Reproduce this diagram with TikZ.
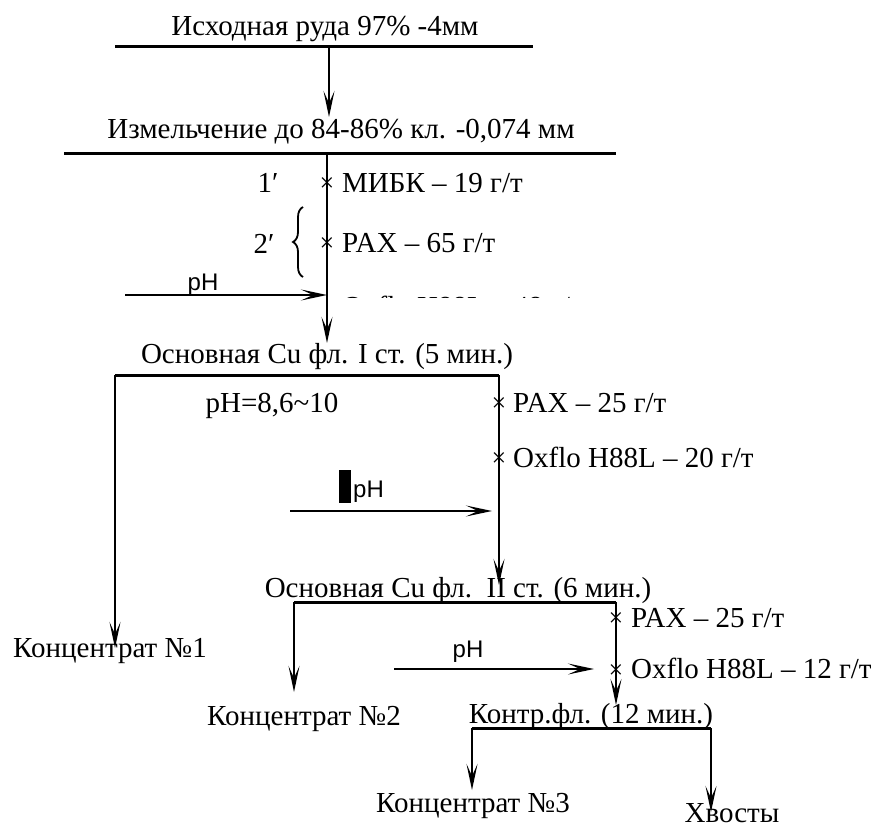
\documentclass[tikz,border=0pt]{standalone}
\usepackage{fontspec}
\setmainfont{Liberation Serif}
\newfontfamily\phfont{Liberation Sans}
\usetikzlibrary{arrows.meta, decorations.pathreplacing}
\tikzset{
  lbl/.style={inner sep=0pt, anchor=base, font=\fontsize{29}{34}\selectfont},
  dose/.style={lbl, anchor=base west},
  phlbl/.style={inner sep=0pt, anchor=base, font=\phfont\fontsize{24}{28}\selectfont},
  cross/.style={inner sep=0pt, font=\fontsize{26}{28}\selectfont},
  bar/.style={line width=3pt},
  pipe/.style={line width=1.6pt},
  flow/.style={-{Stealth[length=26pt, width=11pt, inset=12pt]}, line width=1.7pt},
}
\begin{document}
\begin{tikzpicture}[x=1pt, y=-1pt]
\useasboundingbox (0,0) rectangle (875,832);

% feed and grinding
\node[lbl] (feed) at (325,36) {Исходная руда 97\% -4мм};
\coordinate (feedL) at (115,47);
\coordinate (feedR) at (533,47);
\coordinate (feedM) at (329,47);
\draw[bar] (feedL) -- (feedR);

\node[lbl] (grind) at (341,139) {Измельчение до 84-86\% кл. -0,074 мм};
\coordinate (grindIn) at (329,117);
\coordinate (grindL) at (64,153);
\coordinate (grindR) at (616,153);
\coordinate (grindM) at (327,153);
\draw[flow] (feedM) -- (grindIn);
\draw[bar] (grindL) -- (grindR);

% reagents before rougher I
\coordinate (r1In) at (327,343);
\draw[flow] (grindM) -- (r1In);
\node[cross] (x1) at (327,185) {×};
\node[cross] (x2) at (327,245) {×};
\node[lbl] (n1) at (268,192) {1′};
\node[lbl] (n2) at (264,253) {2′};
\node[dose] (mibk) at (342,192) {МИБК – 19 г/т};
\node[dose] (pax1) at (342,252) {PAX – 65 г/т};
\draw[decorate, decoration={brace, amplitude=10pt}, line width=1.8pt]
  (303,277) -- (303,207);
\begin{scope}
  \clip (330,280) rectangle (640,297);
  \node[dose] (oxflo1) at (342,316) {Oxflo H88L – 48 г/т};
\end{scope}
\coordinate (ph1S) at (125,295);
\coordinate (ph1E) at (327,295);
\draw[flow] (ph1S) -- (ph1E);
\node[phlbl] (ph1) at (203,290) {pH};

% rougher I
\node[lbl] (rough1) at (327,363) {Основная Cu фл. I ст. (5 мин.)};
\coordinate (r1L) at (115,375);
\coordinate (r1R) at (499,375);
\draw[bar] (r1L) -- (r1R);
\node[lbl] (phr1) at (272,412) {pH=8,6\textasciitilde10};
\node[lbl] (conc1) at (110,657) {Концентрат №1};
\coordinate (conc1In) at (115,648);
\draw[flow] (r1L) -- (conc1In);

\node[cross] (x3) at (499,405) {×};
\node[cross] (x4) at (499,460) {×};
\node[dose] (pax2) at (513,412) {PAX – 25 г/т};
\node[dose] (oxflo2) at (513,467) {Oxflo H88L – 20 г/т};
\node[fill=black, inner sep=0pt, minimum width=12pt, minimum height=33pt] (blk) at (345,486) {};
\node[phlbl, anchor=base west] (ph2) at (353,497) {pH};
\coordinate (ph2S) at (290,511);
\coordinate (ph2E) at (492,511);
\draw[flow] (ph2S) -- (ph2E);

% rougher II
\node[lbl] (rough2) at (458,597) {Основная Cu фл.\ \ II ст. (6 мин.)};
\coordinate (r2In) at (499,585);
\draw[flow] (r1R) -- (r2In);
\coordinate (r2L) at (294,602);
\coordinate (r2R) at (616,602);
\draw[bar] (r2L) -- (r2R);
\node[lbl] (conc2) at (304,725) {Концентрат №2};
\coordinate (conc2In) at (294,692);
\draw[flow] (r2L) -- (conc2In);

\node[cross] (x5) at (616,620) {×};
\node[cross] (x6) at (616,672) {×};
\node[dose] (pax3) at (631,627) {PAX – 25 г/т};
\node[dose] (oxflo3) at (631,678) {Oxflo H88L – 12 г/т};
\node[phlbl] (ph3) at (468,657) {pH};
\coordinate (ph3S) at (394,669);
\coordinate (ph3E) at (594,669);
\draw[flow] (ph3S) -- (ph3E);

% scavenger
\node[lbl] (scav) at (591,723) {Контр.фл. (12 мин.)};
\coordinate (scIn) at (616,705);
\draw[flow] (r2R) -- (scIn);
\coordinate (scL) at (472,728);
\coordinate (scR) at (711,728);
\draw[bar] (scL) -- (scR);
\node[lbl] (conc3) at (473,812) {Концентрат №3};
\node[lbl] (tails) at (732,822) {Хвосты};
\coordinate (conc3In) at (472,790);
\coordinate (tailsIn) at (711,812);
\draw[flow] (scL) -- (conc3In);
\draw[flow] (scR) -- (tailsIn);

\end{tikzpicture}
\end{document}
